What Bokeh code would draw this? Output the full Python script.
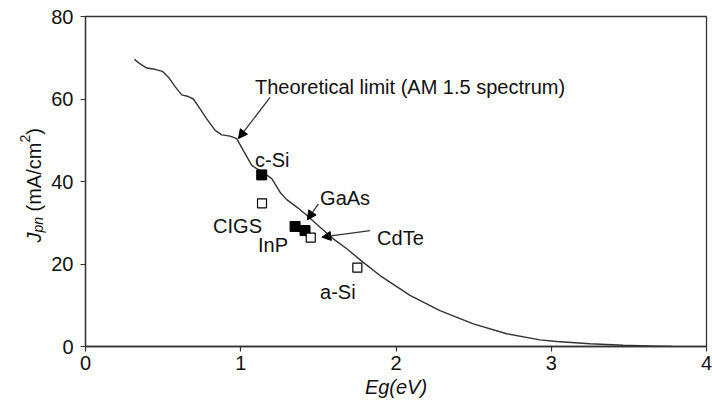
import math
from bokeh.plotting import figure
from bokeh.layouts import row
from bokeh.models import Range1d, FixedTicker, Label, Arrow, NormalHead, ColumnDataSource
from bokeh.core.properties import value
from bokeh.embed import file_html
from bokeh.resources import INLINE

# ---------------- data ----------------
# theoretical limit curve (AM 1.5 spectrum)
limit_eg = [0.315, 0.352, 0.395, 0.448, 0.495, 0.534, 0.577, 0.620, 0.663, 0.695,
            0.738, 0.781, 0.835, 0.878, 0.931, 0.974, 1.017, 1.071, 1.103, 1.124,
            1.200, 1.253, 1.296, 1.361, 1.425, 1.511, 1.596, 1.683, 1.789, 1.897,
            1.961, 2.090, 2.283, 2.498, 2.713, 2.927, 3.035, 3.249, 3.464, 3.679, 3.78]
limit_j = [69.6, 68.5, 67.5, 67.2, 66.7, 65.3, 63.0, 61.0, 60.6, 60.0,
           57.6, 55.2, 52.4, 51.3, 51.0, 50.4, 47.5, 43.9, 43.1, 42.7,
           40.7, 37.4, 35.6, 33.8, 31.8, 28.9, 26.1, 23.7, 20.4, 17.2,
           15.6, 12.4, 8.7, 5.5, 3.1, 1.6, 1.2, 0.65, 0.3, 0.1, 0.0]

# measured cells
materials = ["c-Si", "InP", "GaAs", "CIGS", "CdTe", "a-Si"]
cell_eg = [1.135, 1.350, 1.414, 1.137, 1.451, 1.751]
cell_j = [41.6, 29.1, 28.1, 34.7, 26.4, 19.1]
cell_filled = [True, True, True, False, False, False]

x_ticks = [0, 1, 2, 3, 4]
y_ticks = [0, 20, 40, 60, 80]
curve_label = "Theoretical limit (AM 1.5 spectrum)"
x_title = "Eg(eV)"
y_title_parts = ["J", "pn", "(mA/cm", "2", ")"]

# ---------------- layout / style ----------------
FONT = "Liberation Sans"
INK = "#111111"
LINE = "#333333"
TITLE_W = 48
H = 412
TOP, BOTTOM = 16, 66
FRAME_H = H - TOP - BOTTOM

p = figure(width=712 - TITLE_W, height=H, output_backend="svg", toolbar_location=None,
           x_range=Range1d(0, 4), y_range=Range1d(0, 80),
           min_border_left=85 - TITLE_W, min_border_right=6,
           min_border_top=TOP, min_border_bottom=BOTTOM)
p.background_fill_color = "white"
p.border_fill_color = "white"
p.grid.visible = False
p.outline_line_color = LINE
p.outline_line_width = 1.3

for ax in (p.xaxis[0], p.yaxis[0]):
    ax.axis_line_color = LINE
    ax.axis_line_width = 1.3
    ax.major_tick_line_color = LINE
    ax.major_tick_line_width = 1.2
    ax.major_tick_in = 0
    ax.major_tick_out = 5
    ax.minor_tick_line_color = None
    ax.major_label_text_font = FONT
    ax.major_label_text_font_size = "20px"
    ax.major_label_text_color = INK
p.xaxis[0].ticker = FixedTicker(ticks=x_ticks)
p.yaxis[0].ticker = FixedTicker(ticks=y_ticks)
p.xaxis[0].major_label_standoff = 4
p.yaxis[0].major_label_standoff = 7
p.xaxis[0].axis_label = x_title
p.xaxis[0].axis_label_text_font = FONT
p.xaxis[0].axis_label_text_font_size = "20px"
p.xaxis[0].axis_label_text_font_style = "italic"
p.xaxis[0].axis_label_text_color = INK
p.xaxis[0].axis_label_standoff = 3

# curve
p.line(limit_eg, limit_j, line_color=LINE, line_width=1.4)

# cells
src_f = ColumnDataSource(dict(x=[e for e, f in zip(cell_eg, cell_filled) if f],
                              y=[j for j, f in zip(cell_j, cell_filled) if f]))
src_o = ColumnDataSource(dict(x=[e for e, f in zip(cell_eg, cell_filled) if not f],
                              y=[j for j, f in zip(cell_j, cell_filled) if not f]))
p.scatter("x", "y", source=src_f, marker="square", size=10,
          fill_color="black", line_color="black")
p.scatter("x", "y", source=src_o, marker="square", size=9,
          fill_color="white", line_color="black", line_width=1.2)

# text labels (positions are layout, in data units)
label_pos = {
    "c-Si": (1.092, 45.1),
    "GaAs": (1.511, 35.9),
    "CIGS": (0.822, 29.3),
    "InP": (1.111, 24.5),
    "CdTe": (1.878, 26.4),
    "a-Si": (1.511, 13.3),
}
for m in materials:
    lx, ly = label_pos[m]
    p.add_layout(Label(x=lx, y=ly, text=m, text_font=FONT, text_font_size="20px",
                       text_color=INK, text_align="left", text_baseline="alphabetic"))
p.add_layout(Label(x=1.092, y=62.9, text=curve_label, text_font=FONT,
                   text_font_size="20px", text_color=INK,
                   text_align="left", text_baseline="alphabetic"))

# arrows
for (x0, y0, x1, y1) in [(1.189, 60.4, 0.985, 50.4),
                         (1.500, 34.6, 1.429, 30.7),
                         (1.833, 28.1, 1.522, 26.5)]:
    p.add_layout(Arrow(x_start=x0, y_start=y0, x_end=x1, y_end=y1,
                       line_color=LINE, line_width=1.3,
                       end=NormalHead(size=9, fill_color="black", line_color="black")))

# ---- y axis title panel: frame aligned with main frame, pixel units ----
t = figure(width=TITLE_W, height=H, output_backend="svg", toolbar_location=None,
           x_range=Range1d(0, TITLE_W), y_range=Range1d(0, FRAME_H),
           min_border_left=0, min_border_right=0,
           min_border_top=TOP, min_border_bottom=BOTTOM,
           x_axis_location=None, y_axis_location=None)
t.grid.visible = False
t.outline_line_color = None
t.background_fill_color = "white"
t.border_fill_color = "white"

# (x baseline, y start measured from canvas top, size, style) for each part
part_layout = [(33, 242.0, "20px", "italic"),
               (37, 232.0, "14px", "italic"),
               (33, 211.0, "20px", "normal"),
               (24, 142.0, "14px", "normal"),
               (33, 134.2, "20px", "normal")]
for txt, (bx, sy, fs, st) in zip(y_title_parts, part_layout):
    t.text(x=[bx], y=[H - BOTTOM - sy], text=[txt], angle=math.pi / 2,
           text_font=value(FONT), text_font_size=value(fs),
           text_font_style=value(st), text_color=INK,
           text_align="left", text_baseline="alphabetic")

layout = row(t, p, spacing=0)
open("out.html", "w").write(file_html(layout, INLINE))
